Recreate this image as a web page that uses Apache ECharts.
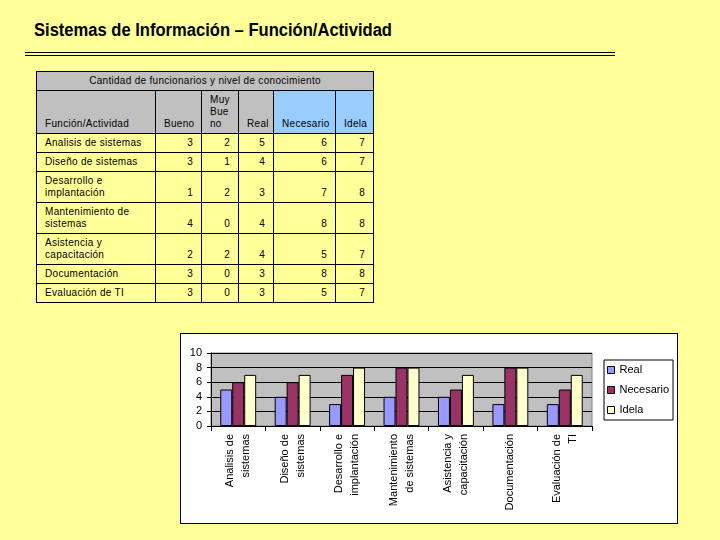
<!DOCTYPE html>
<html lang="es">
  <head>
    <meta charset="UTF-8" />
    <title>Sistemas de Información – Función/Actividad</title>
    <script src="https://cdn.jsdelivr.net/npm/echarts@6.0.0/dist/echarts.min.js"></script>
    <style>
      body {
        margin: 0;
        width: 720px;
        height: 540px;
        overflow: hidden;
        position: relative;
        background-color: #ffff99;
        font-family: "Liberation Sans", Arial, sans-serif;
      }

      #title {
        position: absolute;
        left: 34px;
        top: 21px;
        font-size: 18px;
        line-height: 18px;
        font-weight: bold;
        white-space: nowrap;
        transform: scaleX(0.92);
        transform-origin: left top;
      }

      #rule {
        position: absolute;
        left: 25px;
        top: 52px;
        width: 590px;
        height: 2px;
        border-top: 1px solid #000;
        border-bottom: 1px solid #000;
      }

      #tabla {
        position: absolute;
        left: 36px;
        top: 71px;
        width: 337px;
        table-layout: fixed;
        border-collapse: collapse;
        font-size: 10px;
        line-height: 12px;
        letter-spacing: 0.3px;
      }

      #tabla td {
        border: 1px solid #000;
        padding: 3px 8px 3px 8px;
        vertical-align: bottom;
        white-space: pre-line;
      }

      #tabla td.num {
        text-align: right;
      }

      #tabla tr.head td {
        background-color: #c0c0c0;
        text-align: left;
      }

      #tabla tr.head td.blue {
        background-color: #99ccff;
      }

      #tabla td.caption {
        background-color: #c0c0c0;
        text-align: center;
        vertical-align: middle;
      }

      #frame {
        position: absolute;
        left: 180px;
        top: 333px;
        width: 496px;
        height: 189px;
        background-color: #ffffff;
        border: 1px solid #000;
      }

      #chart {
        position: absolute;
        left: 0;
        top: 0;
        width: 720px;
        height: 540px;
      }
    </style>
  </head>
  <body>
    <div id="title">Sistemas de Información – Función/Actividad</div>
    <div id="rule"></div>
    <table id="tabla"></table>
    <div id="frame"></div>
    <div id="chart"></div>
    <script>
      var funciones = [
        "Analisis de sistemas",
        "Diseño de sistemas",
        "Desarrollo e implantación",
        "Mantenimiento de sistemas",
        "Asistencia y capacitación",
        "Documentación",
        "Evaluación de TI",
      ];
      var etiquetasEje = [
        "Analisis de\nsistemas",
        "Diseño de\nsistemas",
        "Desarrollo e\nimplantación",
        "Mantenimiento\nde sistemas",
        "Asistencia y\ncapacitación",
        "Documentación",
        "Evaluación de\nTI",
      ];
      var bueno = [3, 3, 1, 4, 2, 3, 3];
      var muyBueno = [2, 1, 2, 0, 2, 0, 0];
      var real = [5, 4, 3, 4, 4, 3, 3];
      var necesario = [6, 6, 7, 8, 5, 8, 5];
      var idela = [7, 7, 8, 8, 7, 8, 7];

      var tituloTabla = "Cantidad de funcionarios y nivel de conocimiento";
      var columnas = ["Función/Actividad", "Bueno", "Muy\nBue\nno", "Real", "Necesario", "Idela"];
      var anchos = [119, 46, 37, 35, 62, 38];

      // Tabla
      var html = "<colgroup>";
      anchos.forEach(function (w) {
        html += '<col style="width:' + w + 'px">';
      });
      html += "</colgroup>";
      html += '<tr><td class="caption" colspan="6">' + tituloTabla + "</td></tr>";
      html += '<tr class="head">';
      columnas.forEach(function (c, i) {
        html += "<td" + (i >= 4 ? ' class="blue"' : "") + ">" + c + "</td>";
      });
      html += "</tr>";
      funciones.forEach(function (f, i) {
        html +=
          "<tr><td>" + f + "</td>" +
          '<td class="num">' + bueno[i] + "</td>" +
          '<td class="num">' + muyBueno[i] + "</td>" +
          '<td class="num">' + real[i] + "</td>" +
          '<td class="num">' + necesario[i] + "</td>" +
          '<td class="num">' + idela[i] + "</td></tr>";
      });
      document.getElementById("tabla").innerHTML = html;

      // Gráfico
      const chart = echarts.init(document.getElementById("chart"));

      const options = {
        animation: false,
        textStyle: {
          fontFamily: "Liberation Sans, Arial, sans-serif",
          color: "#000",
        },
        grid: {
          left: 211,
          top: 353,
          width: 381,
          height: 73,
          show: true,
          backgroundColor: "#c0c0c0",
          borderColor: "#808080",
          borderWidth: 1,
        },
        legend: {
          orient: "vertical",
          left: 604,
          top: 360,
          padding: [3, 4, 3, 3],
          itemWidth: 7,
          itemHeight: 7,
          itemGap: 6,
          icon: "rect",
          backgroundColor: "#ffffff",
          borderColor: "#000",
          borderWidth: 1,
          borderRadius: 0,
          itemStyle: {
            borderColor: "#000",
            borderWidth: 1,
          },
          textStyle: {
            fontSize: 11,
            lineHeight: 14,
            color: "#000",
          },
          data: ["Real", "Necesario", "Idela"],
        },
        xAxis: {
          type: "category",
          data: etiquetasEje,
          axisLine: {
            lineStyle: { color: "#000" },
          },
          axisTick: {
            show: true,
            length: 5,
            lineStyle: { color: "#000" },
          },
          axisLabel: {
            interval: 0,
            rotate: 90,
            margin: 8,
            fontSize: 11,
            lineHeight: 16,
            color: "#000",
          },
          splitLine: { show: false },
        },
        yAxis: {
          type: "value",
          min: 0,
          max: 10,
          interval: 2,
          axisLine: {
            show: true,
            lineStyle: { color: "#000" },
          },
          axisTick: {
            show: true,
            length: 4,
            lineStyle: { color: "#000" },
          },
          axisLabel: {
            fontSize: 11,
            margin: 9,
            color: "#000",
          },
          splitLine: {
            lineStyle: { color: "#000" },
          },
        },
        series: [
          {
            name: "Real",
            type: "bar",
            data: real,
            barGap: "0%",
            barCategoryGap: "34%",
            itemStyle: { color: "#9999ff", borderColor: "#000", borderWidth: 1 },
          },
          {
            name: "Necesario",
            type: "bar",
            data: necesario,
            itemStyle: { color: "#993366", borderColor: "#000", borderWidth: 1 },
          },
          {
            name: "Idela",
            type: "bar",
            data: idela,
            itemStyle: { color: "#ffffcc", borderColor: "#000", borderWidth: 1 },
          },
        ],
      };

      chart.setOption(options);
    </script>
  </body>
</html>
